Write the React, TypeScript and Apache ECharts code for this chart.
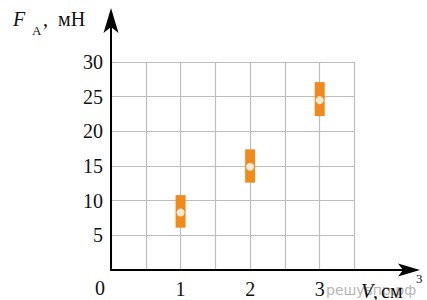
import React, { useEffect, useRef } from "react";
import * as echarts from "echarts";

const volumes = [1, 2, 3];
const forceLow = [6.1, 12.6, 22.2];
const forceHigh = [10.8, 17.4, 27.1];
const forceMid = [8.3, 14.9, 24.5];
const xTickLabels = ["1", "2", "3"];
const yTickLabels = ["5", "10", "15", "20", "25", "30"];

const SERIF = "'Liberation Serif', serif";

export default function App() {
  const ref = useRef<HTMLDivElement>(null);
  useEffect(() => {
    if (!ref.current) return;
    const chart = echarts.init(ref.current, null, { renderer: "svg" });
    const rangeData = volumes.map((v, i) => [v, forceLow[i], forceHigh[i]]);
    const midData = volumes.map((v, i) => [v, forceMid[i]]);
    const txt = (x: number, y: number, text: string, size: number, italic = false, color = "#111", align = "left", family = SERIF) => ({
      type: "text",
      x,
      y,
      z: 20,
      style: {
        text,
        fill: color,
        fontSize: size,
        fontFamily: family,
        fontStyle: italic ? "italic" : "normal",
        align,
        verticalAlign: "middle",
      },
    });
    chart.setOption({
      animation: false,
      grid: { left: 111, right: 72.5, top: 62, bottom: 30 },
      xAxis: {
        type: "value",
        min: 0,
        max: 3.5,
        interval: 0.5,
        axisLine: { show: false },
        axisTick: { show: false },
        splitLine: { show: true, lineStyle: { color: "#bdbdbd", width: 1.2 } },
        axisLabel: {
          margin: 9,
          color: "#111",
          fontSize: 20,
          fontFamily: SERIF,
          formatter: (v: number) => {
            const idx = xTickLabels.indexOf(String(v));
            return idx >= 0 ? xTickLabels[idx] : "";
          },
        },
      },
      yAxis: {
        type: "value",
        min: 0,
        max: 30,
        interval: 5,
        axisLine: { show: false },
        axisTick: { show: false },
        splitLine: { show: true, lineStyle: { color: "#bdbdbd", width: 1.2 } },
        axisLabel: {
          margin: 8,
          color: "#111",
          fontSize: 20,
          fontFamily: SERIF,
          formatter: (v: number) => {
            const idx = yTickLabels.indexOf(String(v));
            return idx >= 0 ? yTickLabels[idx] : "";
          },
        },
      },
      series: [
        {
          type: "custom",
          data: rangeData,
          z: 5,
          renderItem: (params: any, api: any) => {
            const x = api.value(0);
            const top = api.coord([x, api.value(2)]);
            const bot = api.coord([x, api.value(1)]);
            return {
              type: "rect",
              shape: { x: top[0] - 5, y: top[1], width: 10, height: bot[1] - top[1] },
              style: { fill: "#f08a1c" },
            };
          },
        },
        {
          type: "scatter",
          data: midData,
          z: 6,
          symbol: "circle",
          symbolSize: 8,
          itemStyle: { color: "#ffffff" },
        },
      ],
      graphic: [
        { type: "line", z: 10, shape: { x1: 111, y1: 271, x2: 111, y2: 14 }, style: { stroke: "#000", lineWidth: 2 } },
        { type: "polygon", z: 10, shape: { points: [[111, 8], [118.5, 33], [111, 27], [103.5, 33]] }, style: { fill: "#000" } },
        { type: "line", z: 10, shape: { x1: 110, y1: 270, x2: 414, y2: 270 }, style: { stroke: "#000", lineWidth: 2 } },
        { type: "polygon", z: 10, shape: { points: [[420, 270], [398, 263.5], [403, 270], [398, 276.5]] }, style: { fill: "#000" } },
        txt(326, 290, "решувпр.рф", 14, false, "#b5b5b5", "left", "'DejaVu Sans', sans-serif"),
        txt(100, 288, "0", 20, false, "#111", "center"),
        txt(13, 19, "F", 20, true),
        txt(32, 30, "A", 13),
        txt(43, 19, ",", 20),
        txt(58, 19, "мН", 20),
        txt(361, 291, "V", 20, true),
        txt(373, 291, ",", 20),
        txt(381, 291, "см", 20),
        txt(416, 278, "3", 13),
      ],
    });
    return () => chart.dispose();
  }, []);
  return <div ref={ref} style={{ width: 427, height: 300, position: "absolute", left: 0, top: 0 }} />;
}
